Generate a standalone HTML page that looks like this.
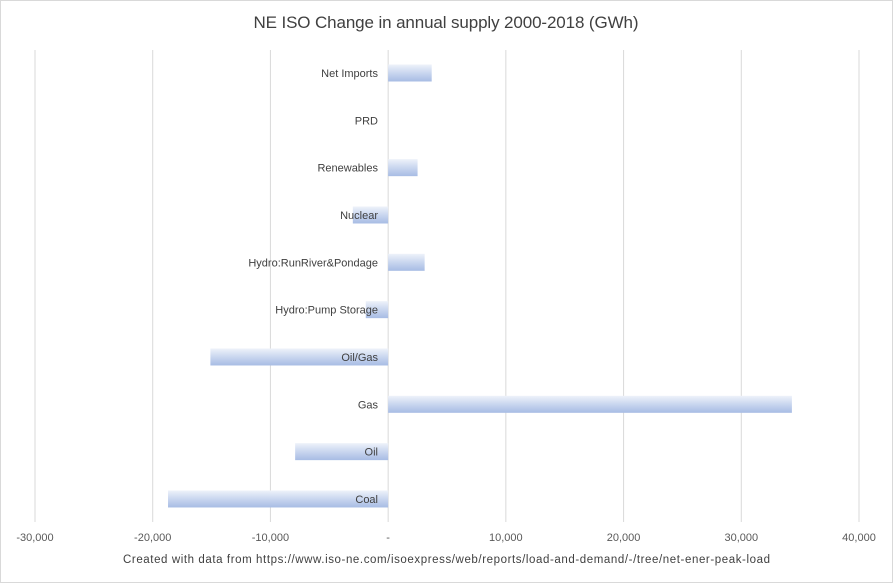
<!DOCTYPE html>
<html><head><meta charset="utf-8"><style>
body{margin:0;background:#fff;}
svg{display:block;font-family:"Liberation Sans",sans-serif;}
</style></head><body>
<svg id="chart" width="893" height="583">
<defs><linearGradient id="bg" x1="0" y1="0" x2="0" y2="1">
<stop offset="0" stop-color="#eef2fa"/><stop offset="0.5" stop-color="#c9d6ef"/><stop offset="1" stop-color="#a7bce4"/></linearGradient></defs>
<rect x="0.5" y="0.5" width="892" height="582" fill="#fff" stroke="#d9d9d9"/>
<text x="446" y="28" text-anchor="middle" font-size="17" fill="#404040" textLength="385">NE ISO Change in annual supply 2000-2018 (GWh)</text>
<g id="grid"></g><g id="bars"></g><g id="labels"></g><g id="ticks"></g>
<text x="123" y="563" font-size="11.5" fill="#404040" textLength="647">Created  with data from https://www.iso-ne.com/isoexpress/web/reports/load-and-demand/-/tree/net-ener-peak-load</text>
</svg>
<script>
const categories=["Net Imports","PRD","Renewables","Nuclear","Hydro:RunRiver&Pondage","Hydro:Pump Storage","Oil/Gas","Gas","Oil","Coal"];
const values=[3700,0,2500,-3000,3100,-1900,-15100,34300,-7900,-18700];
const tickValues=[-30000,-20000,-10000,0,10000,20000,30000,40000];
const tickLabels=["-30,000","-20,000","-10,000","-","10,000","20,000","30,000","40,000"];
const NS="http://www.w3.org/2000/svg";
const x=v=>35+(v+30000)*(824/70000);
const y=i=>73+i*47.33;
function mk(t,a,p){const e=document.createElementNS(NS,t);for(const k in a)e.setAttribute(k,a[k]);p.appendChild(e);return e;}
const grid=document.getElementById('grid'),ticks=document.getElementById('ticks'),bars=document.getElementById('bars'),labels=document.getElementById('labels');
tickValues.forEach((v,i)=>{
 const l=mk('line',{x1:x(v),x2:x(v),y1:50,y2:522,stroke:'#d9d9d9','stroke-width':1},grid);
 
 
 const t=mk('text',{x:x(v),y:541,'text-anchor':'middle','font-size':11,fill:'#595959'},ticks);
 t.textContent=tickLabels[i];
 
 
});
categories.forEach((c,i)=>{
 const v=values[i],x0=Math.min(x(0),x(v)),w=Math.abs(x(v)-x(0));
 const r=mk('rect',{x:x0,y:y(i)-8.5,width:w,height:17,fill:'url(#bg)'},bars);
 
 
 const t=mk('text',{x:378,y:y(i)+4,'text-anchor':'end','font-size':11,fill:'#404040'},labels);
 t.textContent=c;
 
 
});
</script>
</body></html>
